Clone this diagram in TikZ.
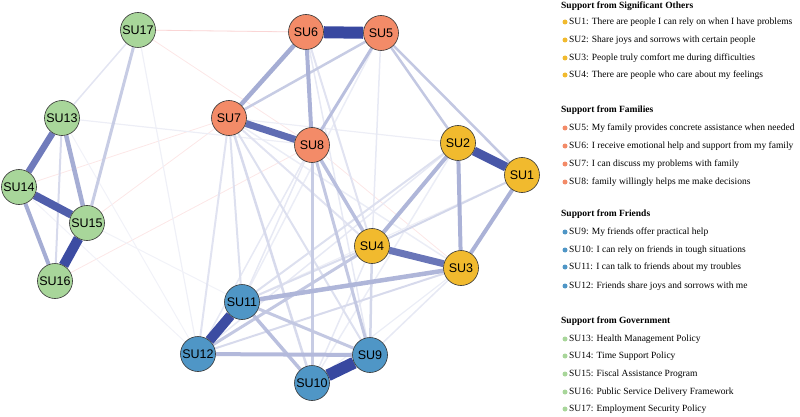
\documentclass[tikz,border=0pt]{standalone}
\usepackage{fontspec}
\setmainfont{Liberation Serif}
\newfontfamily\nodefont{Liberation Sans}
\usetikzlibrary{backgrounds}
\definecolor{gov}{HTML}{A8D69A}
\definecolor{fam}{HTML}{F38B68}
\definecolor{sig}{HTML}{F1BA2E}
\definecolor{fri}{HTML}{4F96C6}
\definecolor{eb}{HTML}{3848A0}
\definecolor{neg}{HTML}{F4A0A0}
\begin{document}
\begin{tikzpicture}[x=1pt,y=-1pt,
  su/.style={circle, draw=black!80, line width=0.6pt, minimum size=35pt, inner sep=0pt,
    font=\nodefont\fontsize{12.5}{12.5}\selectfont},
  hdr/.style={anchor=west, inner sep=0pt, font=\bfseries\fontsize{9.5}{10}\selectfont},
  itm/.style={anchor=west, inner sep=0pt, font=\fontsize{9.5}{10}\selectfont},
  dot/.style={circle, fill=#1, inner sep=0pt, minimum size=5pt}]
\useasboundingbox (0,0) rectangle (800,417);

% nodes
\node[su, fill=gov] (SU17) at (138,30) {SU17};
\node[su, fill=gov] (SU13) at (62,118) {SU13};
\node[su, fill=gov] (SU14) at (19,187) {SU14};
\node[su, fill=gov] (SU15) at (87,223) {SU15};
\node[su, fill=gov] (SU16) at (55,281) {SU16};
\node[su, fill=fam] (SU6) at (306,32) {SU6};
\node[su, fill=fam] (SU5) at (381,33) {SU5};
\node[su, fill=fam] (SU7) at (229,118) {SU7};
\node[su, fill=fam] (SU8) at (312,145) {SU8};
\node[su, fill=sig] (SU2) at (458,143) {SU2};
\node[su, fill=sig] (SU1) at (522,175) {SU1};
\node[su, fill=sig] (SU4) at (372,246) {SU4};
\node[su, fill=sig] (SU3) at (461,268) {SU3};
\node[su, fill=fri] (SU11) at (242,302) {SU11};
\node[su, fill=fri] (SU12) at (198,354) {SU12};
\node[su, fill=fri] (SU9) at (370,355) {SU9};
\node[su, fill=fri] (SU10) at (312,383) {SU10};

\begin{pgfonlayer}{background}
% negative (faint pink) edges
\foreach \a/\b in {SU17/SU6, SU17/SU8, SU17/SU5, SU16/SU8, SU15/SU7, SU7/SU10, SU14/SU7, SU8/SU3}
  \draw[neg, opacity=0.25, line width=0.8pt] (\a) -- (\b);
% positive edges
\foreach \a/\b/\w/\c in {
  SU17/SU12/1.2/8, SU13/SU8/1.2/9, SU13/SU12/1/7, SU14/SU12/1/7, SU15/SU11/1/7,
  SU7/SU2/1.2/9, SU1/SU11/1.2/9, SU3/SU10/1.2/10, SU2/SU10/1.5/10,
  SU5/SU11/1.5/10, SU7/SU3/1.5/10, SU2/SU12/1.5/12, SU6/SU9/1.5/12,
  SU5/SU4/1.5/12, SU8/SU12/1.5/12, SU8/SU11/1.5/12, SU3/SU9/1.5/12, SU4/SU10/1.5/12,
  SU17/SU13/1.5/14, SU7/SU12/2/15, SU7/SU4/2/15, SU6/SU4/2/15,
  SU7/SU11/2/17, SU7/SU9/2/17, SU2/SU11/2/17, SU4/SU11/2/18,
  SU7/SU10/2.5/20, SU13/SU16/2/20, SU3/SU12/2/20, SU1/SU4/2/22, SU4/SU9/2.5/22,
  SU17/SU15/3/28, SU5/SU7/2.5/28, SU8/SU10/3/28,
  SU5/SU2/2.5/30, SU5/SU1/2.5/30, SU11/SU9/3/30, SU8/SU9/3/30, SU4/SU12/3/30,
  SU5/SU8/3/35, SU11/SU10/3.5/35, SU8/SU4/3.5/35, SU12/SU9/4/38,
  SU2/SU4/4/40, SU3/SU11/4.5/40, SU6/SU8/4/42, SU2/SU3/4/42, SU1/SU3/4/42,
  SU6/SU7/4.5/45, SU13/SU15/4.5/45, SU14/SU16/4/45,
  SU13/SU14/6.5/72, SU3/SU4/7/75, SU7/SU8/7/80, SU14/SU15/8/88,
  SU1/SU2/9/92, SU11/SU12/10/98, SU15/SU16/10/98, SU5/SU6/12/100, SU9/SU10/12/100}
  \draw[eb!\c!white, line width=\w pt] (\a) -- (\b);
\end{pgfonlayer}

% legend
\node[hdr] (h1) at (561,6) {Support from Significant Others};
\node[dot=sig] (d1) at (565,22) {}; \node[itm] (t1) at (569,22) {SU1: There are people I can rely on when I have problems};
\node[dot=sig] (d2) at (565,40) {}; \node[itm] (t2) at (569,40) {SU2: Share joys and sorrows with certain people};
\node[dot=sig] (d3) at (565,58) {}; \node[itm] (t3) at (569,58) {SU3: People truly comfort me during difficulties};
\node[dot=sig] (d4) at (565,75) {}; \node[itm] (t4) at (569,75) {SU4: There are people who care about my feelings};

\node[hdr] (h2) at (561,110) {Support from Families};
\node[dot=fam] (d5) at (565,128) {}; \node[itm] (t5) at (569,128) {SU5: My family provides concrete assistance when needed};
\node[dot=fam] (d6) at (565,146) {}; \node[itm] (t6) at (569,146) {SU6: I receive emotional help and support from my family};
\node[dot=fam] (d7) at (565,164) {}; \node[itm] (t7) at (569,164) {SU7: I can discuss my problems with family};
\node[dot=fam] (d8) at (565,182) {}; \node[itm] (t8) at (569,182) {SU8: family willingly helps me make decisions};

\node[hdr] (h3) at (561,214) {Support from Friends};
\node[dot=fri] (d9) at (565,232) {}; \node[itm] (t9) at (569,232) {SU9: My friends offer practical help};
\node[dot=fri] (d10) at (565,250) {}; \node[itm] (t10) at (569,250) {SU10: I can rely on friends in tough situations};
\node[dot=fri] (d11) at (565,267) {}; \node[itm] (t11) at (569,267) {SU11: I can talk to friends about my troubles};
\node[dot=fri] (d12) at (565,286) {}; \node[itm] (t12) at (569,286) {SU12: Friends share joys and sorrows with me};

\node[hdr] (h4) at (561,321) {Support from Government};
\node[dot=gov] (d13) at (565,339) {}; \node[itm] (t13) at (569,339) {SU13: Health Management Policy};
\node[dot=gov] (d14) at (565,356) {}; \node[itm] (t14) at (569,356) {SU14: Time Support Policy};
\node[dot=gov] (d15) at (565,374) {}; \node[itm] (t15) at (569,374) {SU15: Fiscal Assistance Program};
\node[dot=gov] (d16) at (565,392) {}; \node[itm] (t16) at (569,392) {SU16: Public Service Delivery Framework};
\node[dot=gov] (d17) at (565,409) {}; \node[itm] (t17) at (569,409) {SU17: Employment Security Policy};
\end{tikzpicture}
\end{document}
